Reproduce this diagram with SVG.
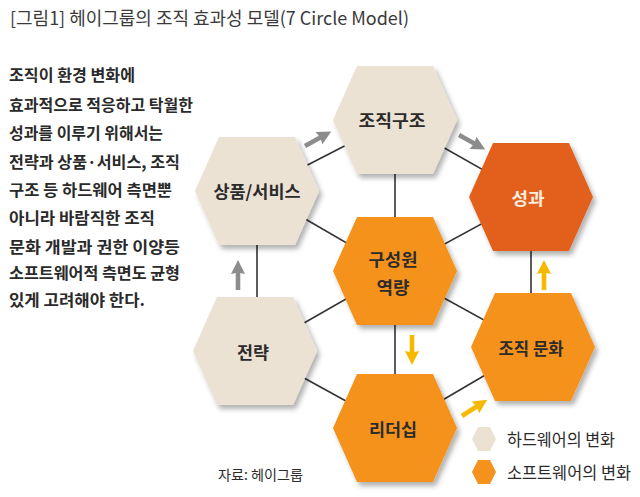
<svg xmlns="http://www.w3.org/2000/svg" width="640" height="497" viewBox="0 0 640 497">
<style>
text{font-family:"Noto Sans CJK KR","Liberation Sans",sans-serif;}
.title{font-size:18px;fill:#3a3a3a;}
.body{font-size:15.5px;font-weight:bold;fill:#2a2a2a;}
.lbl{font-size:17px;font-weight:bold;fill:#2b2b2b;text-anchor:middle;}
.lblw{font-size:17px;font-weight:bold;fill:#fbeee2;text-anchor:middle;}
.leg{font-size:17px;fill:#2b2b2b;}
.hw{fill:#ece2d3;}
.sw{fill:#f5921e;}
.res{fill:#e2601f;}
.conn line{stroke:#333;stroke-width:1.6;}
.ag{fill:#8c8c8c;}
.ay{fill:#f7b900;}
</style>
<defs>
<filter id="sh" x="-20%" y="-20%" width="150%" height="150%">
<feDropShadow dx="3" dy="4" stdDeviation="2.5" flood-color="#000" flood-opacity="0.3"/>
</filter>
<path id="hex" d="M-62,0 L-38,-54 L38,-54 L62,0 L38,54 L-38,54 Z"/>
<path id="shex" d="M-12,0 L-6,-12 L6,-12 L12,0 L6,12 L-6,12 Z"/>
<path id="arr" d="M0,-2.3 L17,-2.3 L16,-7 L30,0 L16,7 L17,2.3 L0,2.3 Z"/>
</defs>
<rect width="640" height="497" fill="#fff"/>
<text class="title" x="10" y="25" textLength="399" lengthAdjust="spacingAndGlyphs">[그림1] 헤이그룹의 조직 효과성 모델(7 Circle Model)</text>
<g id="desc">
<text class="body" x="9" y="81" textLength="126" lengthAdjust="spacingAndGlyphs">조직이 환경 변화에</text>
<text class="body" x="9" y="111" textLength="184" lengthAdjust="spacingAndGlyphs">효과적으로 적응하고 탁월한</text>
<text class="body" x="9" y="139" textLength="154" lengthAdjust="spacingAndGlyphs">성과를 이루기 위해서는</text>
<text class="body" x="9" y="168" textLength="171" lengthAdjust="spacingAndGlyphs">전략과 상품·서비스, 조직</text>
<text class="body" x="9" y="196" textLength="163" lengthAdjust="spacingAndGlyphs">구조 등 하드웨어 측면뿐</text>
<text class="body" x="9" y="224" textLength="146" lengthAdjust="spacingAndGlyphs">아니라 바람직한 조직</text>
<text class="body" x="9" y="253" textLength="171" lengthAdjust="spacingAndGlyphs">문화 개발과 권한 이양등</text>
<text class="body" x="9" y="279" textLength="171" lengthAdjust="spacingAndGlyphs">소프트웨어적 측면도 균형</text>
<text class="body" x="9" y="306" textLength="136" lengthAdjust="spacingAndGlyphs">있게 고려해야 한다.</text>
</g>
<g id="connectors" class="conn">
<line x1="395" y1="120" x2="257" y2="191"/>
<line x1="395" y1="120" x2="531" y2="197"/>
<line x1="395" y1="120" x2="395" y2="271"/>
<line x1="257" y1="191" x2="395" y2="271"/>
<line x1="531" y1="197" x2="395" y2="271"/>
<line x1="257" y1="191" x2="257" y2="351"/>
<line x1="531" y1="197" x2="531" y2="347"/>
<line x1="395" y1="271" x2="255" y2="351"/>
<line x1="395" y1="271" x2="533" y2="347"/>
<line x1="395" y1="271" x2="395" y2="428"/>
<line x1="255" y1="351" x2="395" y2="428"/>
<line x1="533" y1="347" x2="395" y2="428"/>
</g>
<g id="arrows">
<use href="#arr" class="ag" transform="translate(305,146) rotate(-29)"/>
<use href="#arr" class="ag" transform="translate(459,135) rotate(29)"/>
<use href="#arr" class="ag" transform="translate(238,290) rotate(-90)"/>
<use href="#arr" class="ay" transform="translate(544,290) rotate(-90)"/>
<use href="#arr" class="ay" transform="translate(412,335) rotate(90)"/>
<use href="#arr" class="ay" transform="translate(462,416) rotate(-33)"/>
</g>
<g id="n-structure">
<use href="#hex" class="hw" filter="url(#sh)" transform="translate(395,120)"/>
<text class="lbl" x="392" y="127" textLength="67" lengthAdjust="spacingAndGlyphs">조직구조</text>
</g>
<g id="n-product">
<use href="#hex" class="hw" filter="url(#sh)" transform="translate(257,191)"/>
<text class="lbl" x="257" y="198" textLength="87" lengthAdjust="spacingAndGlyphs">상품/서비스</text>
</g>
<g id="n-result">
<use href="#hex" class="res" filter="url(#sh)" transform="translate(531,197)"/>
<text class="lblw" x="528" y="205" textLength="33" lengthAdjust="spacingAndGlyphs">성과</text>
</g>
<g id="n-member">
<use href="#hex" class="sw" filter="url(#sh)" transform="translate(395,271)"/>
<text class="lbl" x="393" y="266" textLength="49" lengthAdjust="spacingAndGlyphs">구성원</text>
<text class="lbl" x="393" y="294" textLength="33" lengthAdjust="spacingAndGlyphs">역량</text>
</g>
<g id="n-strategy">
<use href="#hex" class="hw" filter="url(#sh)" transform="translate(255,351)"/>
<text class="lbl" x="253" y="359" textLength="32" lengthAdjust="spacingAndGlyphs">전략</text>
</g>
<g id="n-culture">
<use href="#hex" class="sw" filter="url(#sh)" transform="translate(533,347)"/>
<text class="lbl" x="531" y="355" textLength="65" lengthAdjust="spacingAndGlyphs">조직 문화</text>
</g>
<g id="n-leadership">
<use href="#hex" class="sw" filter="url(#sh)" transform="translate(395,428)"/>
<text class="lbl" x="393" y="436" textLength="48" lengthAdjust="spacingAndGlyphs">리더십</text>
</g>
<g id="legend">
<use href="#shex" class="hw" transform="translate(484,439)"/>
<text class="leg" x="507" y="446" textLength="108" lengthAdjust="spacingAndGlyphs">하드웨어의 변화</text>
<use href="#shex" class="sw" transform="translate(484,472)"/>
<text class="leg" x="507" y="479" textLength="124" lengthAdjust="spacingAndGlyphs">소프트웨어의 변화</text>
</g>
<text x="218" y="480" style="font-size:14px;fill:#2b2b2b" textLength="85" lengthAdjust="spacingAndGlyphs">자료: 헤이그룹</text>
</svg>
